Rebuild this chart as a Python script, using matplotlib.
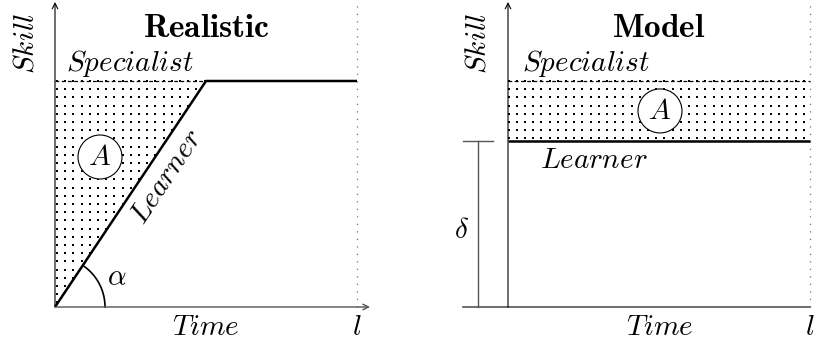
import numpy as np
import matplotlib.pyplot as plt
from matplotlib.patches import Ellipse
from matplotlib.path import Path

plt.rcParams["mathtext.fontset"] = "cm"
plt.rcParams["font.family"] = "serif"
plt.rcParams["font.serif"] = ["DejaVu Serif"]

# data (time runs 0..l, skill 0..specialist)
time_end = 1.0
specialist_skill = 1.0
realistic_learner_time = [0.0, 0.5, 1.0]
realistic_learner_skill = [0.0, 1.0, 1.0]
model_learner_skill = 0.735
panel_titles = ["Realistic", "Model"]

# layout: pixels per data unit
PX_X = 302.0
PX_Y = 226.0
W, H = 817, 345
AXIS_GRAY = "#555555"
DOT_STEP = 8.2
FS = 21


def make_axes(fig, left_px, width_px, origin_px):
    ax = fig.add_axes([left_px / W, 0, width_px / W, 1])
    x0 = origin_px - left_px
    ax.set_xlim(-x0 / PX_X, (width_px - x0) / PX_X)
    ax.set_ylim(-(H - 307) / PX_Y, 307 / PX_Y)
    ax.axis("off")
    return ax


def dots(ax, verts, x_off):
    path = Path(verts)
    xs = np.arange(x_off, 400, DOT_STEP) / PX_X
    ys = specialist_skill - np.arange(0, 400, DOT_STEP) / PX_Y
    gx, gy = np.meshgrid(xs, ys)
    pts = np.column_stack([gx.ravel(), gy.ravel()])
    inside = pts[path.contains_points(pts, radius=1e-6)]
    ax.scatter(inside[:, 0], inside[:, 1], s=4.6, c="black", linewidths=0,
               marker="s", zorder=2)


def circle_a(ax, x, y):
    r = 22.0
    ax.add_patch(Ellipse((x, y), 2 * r / PX_X, 2 * r / PX_Y, facecolor="white",
                         edgecolor="black", lw=0.8, zorder=4))
    ax.text(x, y, r"$A$", ha="center", va="center", fontsize=FS, zorder=5)


def common(ax, title, x_arrow):
    # y axis with arrow
    ax.annotate("", xy=(0, 305 / PX_Y), xytext=(0, 0),
                arrowprops=dict(arrowstyle="->", color="black", lw=0.8,
                                shrinkA=0, shrinkB=0))
    # x axis
    if x_arrow:
        ax.annotate("", xy=(time_end + 13 / PX_X, 0), xytext=(0, 0),
                    arrowprops=dict(arrowstyle="->", color=AXIS_GRAY, lw=1.0,
                                    shrinkA=0, shrinkB=0))
    else:
        ax.plot([0, time_end], [0, 0], color=AXIS_GRAY, lw=1.2)
    # dotted end of time
    ax.plot([time_end, time_end], [0, 302 / PX_Y], color="#777777", lw=0.9,
            ls=(0, (1, 5)))
    ax.text(time_end / 2, 279 / PX_Y, r"$\mathbf{%s}$" % title,
            ha="center", va="center", fontsize=24)
    ax.text(-30 / PX_X, 264 / PX_Y, r"$Skill$", rotation=90, ha="center",
            va="center", fontsize=FS)
    ax.text(time_end, -20 / PX_Y, r"$l$", ha="center", va="center", fontsize=FS)


fig = plt.figure(figsize=(W / 100, H / 100), dpi=100)

# ---- Realistic ----
ax = make_axes(fig, 0, 408, 55)
dots(ax, [(0, 0), (realistic_learner_time[1], specialist_skill),
          (0, specialist_skill)], 2.0)
ax.plot([0, realistic_learner_time[1]], [specialist_skill, specialist_skill],
        color="black", lw=0.9, ls=(0, (3, 2)))
ax.plot(realistic_learner_time, realistic_learner_skill, color="black", lw=1.8,
        solid_capstyle="butt", zorder=3)
ang = np.arctan2(realistic_learner_skill[1] * PX_Y, realistic_learner_time[1] * PX_X)
th = np.linspace(0, ang, 60)
ax.plot(50 * np.cos(th) / PX_X, 50 * np.sin(th) / PX_Y, color="black", lw=1.2)
ax.text(62 / PX_X, 30 / PX_Y, r"$\alpha$", ha="center", va="center", fontsize=FS)
circle_a(ax, 45 / PX_X, 150 / PX_Y)
ax.text(112 / PX_X, 130 / PX_Y,
        r"$Learner$", rotation=np.degrees(ang), rotation_mode="anchor",
        ha="center", va="center", fontsize=FS)
ax.text(75 / PX_X, specialist_skill + 18 / PX_Y, r"$Specialist$", ha="center",
        va="center", fontsize=FS)
ax.text(151 / PX_X, -20 / PX_Y, r"$Time$", ha="center", va="center", fontsize=FS)
common(ax, panel_titles[0], True)

# ---- Model ----
ax = make_axes(fig, 408, 409, 508)
dots(ax, [(0, model_learner_skill), (time_end, model_learner_skill),
          (time_end, specialist_skill), (0, specialist_skill)], 0.5)
ax.plot([0, time_end], [specialist_skill, specialist_skill], color="black",
        lw=0.9, ls=(0, (3, 2)))
ax.plot([0, time_end], [model_learner_skill, model_learner_skill], color="black",
        lw=1.8, solid_capstyle="butt", zorder=3)
circle_a(ax, 152 / PX_X, (model_learner_skill + specialist_skill) / 2)
# delta bracket
bx = -30 / PX_X
tw = 15 / PX_X
ax.plot([bx, bx], [0, model_learner_skill], color=AXIS_GRAY, lw=1.0)
ax.plot([bx - tw, bx + tw], [model_learner_skill] * 2, color=AXIS_GRAY, lw=1.0)
ax.plot([bx - tw, 0], [0, 0], color=AXIS_GRAY, lw=1.2)
ax.text(-46 / PX_X, 77 / PX_Y, r"$\delta$", ha="center", va="center", fontsize=FS)
ax.text(86 / PX_X, model_learner_skill - 19 / PX_Y, r"$Learner$", ha="center",
        va="center", fontsize=FS)
ax.text(78 / PX_X, specialist_skill + 18 / PX_Y, r"$Specialist$", ha="center",
        va="center", fontsize=FS)
ax.text(152 / PX_X, -20 / PX_Y, r"$Time$", ha="center", va="center", fontsize=FS)
common(ax, panel_titles[1], False)

fig.savefig("out.png", dpi=100)
